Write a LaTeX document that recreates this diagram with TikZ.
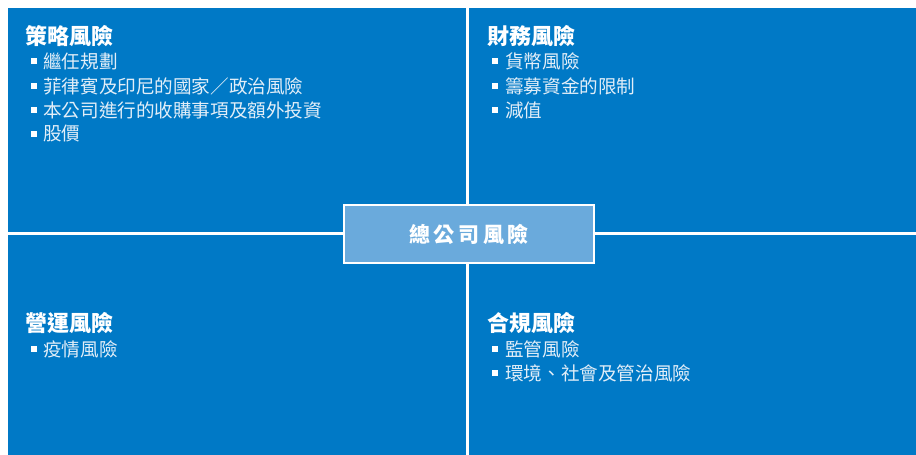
\documentclass[tikz,border=0pt]{standalone}
\usepackage{fontspec}
\newfontfamily\cjk{Noto Sans CJK TC}
\definecolor{qblue}{HTML}{0079C6}
\definecolor{cblue}{HTML}{6AAADC}
\definecolor{itemwhite}{HTML}{E2EEF8}
\tikzset{
  quad/.style={fill=qblue, draw=none, inner sep=0pt, anchor=north west},
  qtitle/.style={anchor=west, inner sep=0pt, text=white, font=\cjk\bfseries\fontsize{22}{26}\selectfont},
  qitem/.style={anchor=west, inner sep=0pt, text=itemwhite, font=\cjk\fontsize{18.6}{22}\selectfont},
  sq/.style={fill=white, draw=none, inner sep=0pt, minimum width=6.5pt, minimum height=6.5pt},
  centerbox/.style={fill=cblue, draw=white, line width=2.5pt, minimum width=250pt, minimum height=58pt, inner sep=0pt, text=white, font=\cjk\bfseries\fontsize{21}{24}\selectfont}
}
\begin{document}
\begin{tikzpicture}[x=1pt,y=-1pt]
\useasboundingbox (0,0) rectangle (916,455);
\fill[white] (0,0) rectangle (916,455);
% quadrants
\node[quad, minimum width=458pt, minimum height=224pt] (tl) at (8,8) {};
\node[quad, minimum width=447pt, minimum height=224pt] (tr) at (469,8) {};
\node[quad, minimum width=458pt, minimum height=220pt] (bl) at (8,235) {};
\node[quad, minimum width=447pt, minimum height=220pt] (br) at (469,235) {};
% TL
\node[qtitle] (t1) at (25,36) {策略風險};
\node[sq] (s11) at (34,61) {}; \node[qitem] (i11) at (43,61) {繼任規劃};
\node[sq] (s12) at (34,86) {}; \node[qitem] (i12) at (43,86) {菲律賓及印尼的國家／政治風險};
\node[sq] (s13) at (34,110) {}; \node[qitem] (i13) at (43,110) {本公司進行的收購事項及額外投資};
\node[sq] (s14) at (34,134) {}; \node[qitem] (i14) at (43,134) {股價};
% TR
\node[qtitle] (t2) at (487,36) {財務風險};
\node[sq] (s21) at (495,61) {}; \node[qitem] (i21) at (505,61) {貨幣風險};
\node[sq] (s22) at (495,86) {}; \node[qitem] (i22) at (505,86) {籌募資金的限制};
\node[sq] (s23) at (495,110) {}; \node[qitem] (i23) at (505,110) {減值};
% BL
\node[qtitle] (t3) at (25,323) {營運風險};
\node[sq] (s31) at (34,349) {}; \node[qitem] (i31) at (43,349) {疫情風險};
% BR
\node[qtitle] (t4) at (487,323) {合規風險};
\node[sq] (s41) at (495,349) {}; \node[qitem] (i41) at (505,349) {監管風險};
\node[sq] (s42) at (495,373) {}; \node[qitem] (i42) at (505,373) {環境、社會及管治風險};
% center
\node[centerbox] (c) at (469,234) {總\,公\,司\,風\,險};
\end{tikzpicture}
\end{document}
